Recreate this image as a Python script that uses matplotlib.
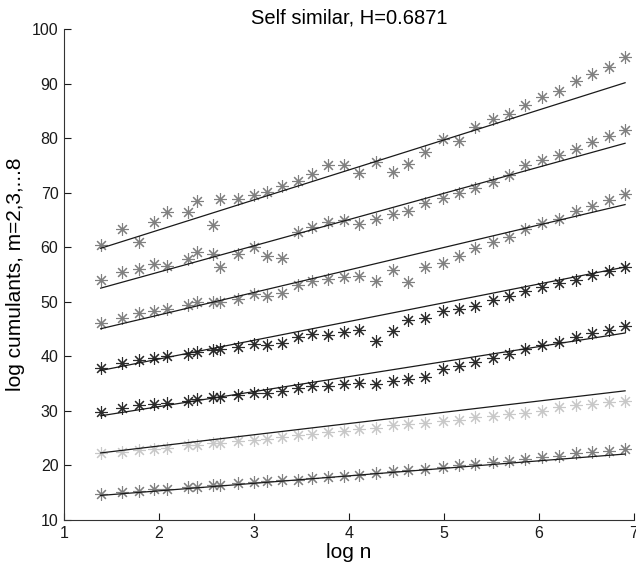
import numpy as np
import matplotlib
matplotlib.use("Agg")
import matplotlib.pyplot as plt

plt.rcParams['font.family'] = ['Liberation Sans', 'DejaVu Sans']

H = 0.6871

# block sizes n (x axis is log n)
n_values = [4, 5, 6, 7, 8, 10, 11, 13, 14, 17, 20, 23, 27, 32, 37, 44, 52, 61,
            73, 87, 102, 122, 147, 174, 206, 248, 294, 350, 416, 498, 596, 706, 845, 1000]

# log cumulants, one list per order m
cum_m8 = [60.4, 63.3, 61.0, 64.6, 66.4, 66.4, 68.4, 64.1, 68.8, 68.8, 69.6, 70.2,
          71.3, 72.2, 73.4, 75.0, 75.1, 73.6, 75.7, 73.8, 75.3, 77.4, 79.8, 79.5,
          82.0, 83.5, 84.4, 86.0, 87.5, 88.6, 90.5, 91.7, 93.1, 94.8]
cum_m7 = [54.0, 55.4, 56.0, 56.9, 56.6, 57.8, 59.1, 58.7, 56.4, 58.7, 60.1, 58.4,
          58.0, 62.8, 63.7, 64.6, 64.9, 64.3, 65.2, 66.0, 66.7, 68.1, 69.0, 69.9,
          70.8, 72.0, 73.3, 75.0, 75.9, 76.9, 78.0, 79.3, 80.3, 81.4]
cum_m6 = [46.1, 47.1, 47.9, 48.4, 48.7, 49.5, 49.9, 49.9, 49.9, 50.6, 51.5, 51.0,
          51.6, 53.1, 53.9, 54.2, 54.6, 54.8, 53.9, 55.9, 53.6, 56.4, 57.2, 58.3,
          59.8, 61.0, 61.9, 63.3, 64.5, 65.2, 66.7, 67.5, 68.6, 69.8]
cum_m5 = [37.9, 38.7, 39.3, 39.7, 40.1, 40.5, 40.8, 41.2, 41.3, 41.7, 42.3, 42.1,
          42.5, 43.5, 44.1, 44.0, 44.4, 44.8, 42.9, 44.7, 46.7, 47.1, 48.4, 48.7,
          49.3, 50.4, 51.0, 52.0, 52.8, 53.5, 54.0, 54.9, 55.6, 56.4]
cum_m4 = [29.8, 30.5, 31.0, 31.3, 31.5, 31.8, 32.1, 32.6, 32.6, 32.9, 33.3, 33.3,
          33.6, 34.2, 34.6, 34.5, 34.9, 35.1, 34.9, 35.4, 35.9, 36.3, 37.6, 38.3,
          39.0, 39.7, 40.5, 41.3, 42.0, 42.7, 43.5, 44.3, 44.8, 45.5]
cum_m3 = [22.2, 22.5, 22.8, 23.0, 23.2, 23.7, 23.7, 24.1, 24.1, 24.4, 24.7, 24.9,
          25.2, 25.5, 25.8, 26.1, 26.4, 26.6, 26.9, 27.4, 27.6, 27.8, 28.1, 28.4,
          28.9, 29.1, 29.5, 29.6, 30.0, 30.7, 31.0, 31.3, 31.6, 31.9]
cum_m2 = [14.8, 15.1, 15.4, 15.6, 15.7, 16.0, 16.1, 16.4, 16.4, 16.7, 17.0, 17.1,
          17.3, 17.4, 17.7, 17.9, 18.0, 18.3, 18.6, 18.9, 19.1, 19.4, 19.7, 20.0,
          20.3, 20.6, 20.9, 21.1, 21.5, 21.8, 22.2, 22.4, 22.7, 23.1]

orders = [2, 3, 4, 5, 6, 7, 8]
series = [cum_m2, cum_m3, cum_m4, cum_m5, cum_m6, cum_m7, cum_m8]
# intercepts of the self similar lines (slope m*H)
intercepts = [12.6, 19.44, 25.29, 32.64, 39.34, 45.83, 52.18]
colors = ['#808080', '#c8c8c8', '#2b2b2b', '#2b2b2b', '#808080', '#808080', '#808080']

logn = np.log(n_values)

fig = plt.figure(figsize=(6.36, 5.72), dpi=100)
ax = fig.add_axes([0.1006, 0.0909, 0.896, 0.8584])

for m, vals, c0, col in zip(orders, series, intercepts, colors):
    ax.plot(logn, vals, linestyle='none', marker=(8, 2, 0), markersize=9,
            markeredgewidth=0.8, color=col)
    ax.plot(logn, c0 + m * H * logn, color='#1a1a1a', linewidth=0.9)

ax.set_xlim(1, 7)
ax.set_ylim(10, 100)
ax.set_xticks(range(1, 8))
ax.set_yticks(range(10, 101, 10))
ax.spines['top'].set_visible(False)
ax.spines['right'].set_visible(False)
for s in ['left', 'bottom']:
    ax.spines[s].set_color('#333333')
ax.tick_params(direction='in', length=5, labelsize=11.5, colors='#1a1a1a', pad=4)

ax.set_title('Self similar, H=0.6871', fontsize=14.5, pad=4)
ax.set_xlabel('log n', fontsize=15, labelpad=2)
ax.set_ylabel('log cumulants, m=2,3,...8', fontsize=15, labelpad=5)

fig.savefig('out.png', dpi=100)
